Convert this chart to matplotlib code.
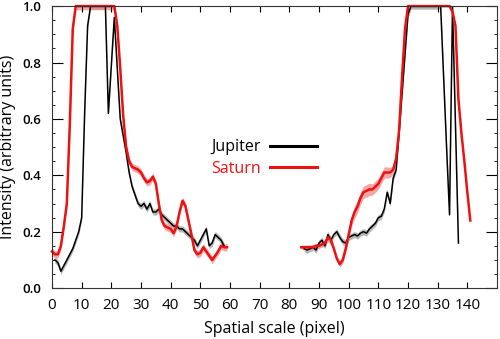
import matplotlib
matplotlib.use('Agg')
import matplotlib.pyplot as plt
from matplotlib.lines import Line2D
from matplotlib.ticker import MultipleLocator, FormatStrFormatter
import numpy as np

plt.rcParams['font.family'] = ['Open Sans', 'DejaVu Sans']

# Jupiter (black), two segments
jup_left_x = list(range(1, 59))
jup_left_y = [0.10, 0.09, 0.06, 0.08, 0.10, 0.12, 0.14, 0.17, 0.20, 0.25,
              0.62, 0.93, 1.0, 1.0, 1.0, 1.0, 1.0, 1.0, 0.62, 0.79,
              0.96, 0.78, 0.60, 0.54, 0.48, 0.41, 0.36, 0.33, 0.30, 0.29,
              0.30, 0.28, 0.30, 0.27, 0.27, 0.28, 0.26, 0.25, 0.24, 0.23,
              0.22, 0.22, 0.21, 0.21, 0.20, 0.19, 0.18, 0.17, 0.15, 0.17,
              0.19, 0.21, 0.15, 0.16, 0.19, 0.18, 0.17, 0.15]
jup_right_x = list(range(85, 138))
jup_right_y = [0.14, 0.135, 0.14, 0.145, 0.135, 0.16, 0.17, 0.15, 0.19, 0.17,
               0.19, 0.20, 0.18, 0.165, 0.16, 0.18, 0.185, 0.19, 0.185, 0.195,
               0.20, 0.195, 0.21, 0.22, 0.23, 0.25, 0.255, 0.28, 0.34, 0.30,
               0.39, 0.42, 0.55, 0.69, 0.83, 0.97, 1.0, 1.0, 1.0, 1.0,
               1.0, 1.0, 1.0, 1.0, 1.0, 1.0, 1.0, 0.75, 0.50, 0.26,
               1.0, 0.58, 0.16]
jup_err = 0.011

# Saturn (red), two segments
sat_left_x = list(range(0, 60))
sat_left_y = [0.13, 0.12, 0.12, 0.15, 0.22, 0.30, 0.58, 0.92, 1.0, 1.0,
              1.0, 1.0, 1.0, 1.0, 1.0, 1.0, 1.0, 1.0, 1.0, 1.0,
              1.0, 1.0, 0.93, 0.78, 0.61, 0.50, 0.45, 0.43, 0.425, 0.42,
              0.41, 0.39, 0.375, 0.38, 0.395, 0.37, 0.30, 0.24, 0.22, 0.215,
              0.21, 0.195, 0.22, 0.27, 0.31, 0.29, 0.24, 0.19, 0.135, 0.12,
              0.125, 0.145, 0.13, 0.115, 0.10, 0.115, 0.13, 0.15, 0.145, 0.145]
sat_left_err = 0.013
sat_right_x = list(range(84, 142))
sat_right_y = [0.145, 0.145, 0.145, 0.145, 0.145, 0.15, 0.15, 0.155, 0.16, 0.18,
               0.17, 0.14, 0.105, 0.085, 0.10, 0.14, 0.19, 0.24, 0.27, 0.29,
               0.32, 0.34, 0.345, 0.35, 0.35, 0.36, 0.37, 0.39, 0.41, 0.41,
               0.41, 0.42, 0.46, 0.56, 0.75, 0.92, 1.0, 1.0, 1.0, 1.0,
               1.0, 1.0, 1.0, 1.0, 1.0, 1.0, 1.0, 1.0, 1.0, 1.0,
               1.0, 0.98, 0.93, 0.67, 0.55, 0.45, 0.34, 0.24]
sat_right_err = [0.008, 0.008, 0.008, 0.008, 0.008, 0.009, 0.009, 0.010, 0.012, 0.016,
                 0.014, 0.012, 0.010, 0.010, 0.012, 0.015, 0.018, 0.020, 0.022, 0.022,
                 0.022, 0.022, 0.022, 0.022, 0.020, 0.020, 0.020, 0.020, 0.020, 0.020,
                 0.018, 0.016, 0.012, 0.010, 0.010, 0.010, 0.0, 0.0, 0.0, 0.0,
                 0.0, 0.0, 0.0, 0.0, 0.0, 0.0, 0.0, 0.0, 0.0, 0.0,
                 0.0, 0.0, 0.0, 0.0, 0.0, 0.0, 0.0, 0.0]

fig = plt.figure(figsize=(5.0, 3.39), dpi=100)
ax = fig.add_axes([0.104, 0.150, 0.890, 0.832])

for xs, ys in [(jup_left_x, jup_left_y), (jup_right_x, jup_right_y)]:
    xs = np.array(xs)
    ys = np.array(ys)
    ax.fill_between(xs, ys - jup_err, ys + jup_err, color='#999999', alpha=0.7, lw=0)
    ax.plot(xs, ys, color='black', lw=1.1)

for xs, ys, err in [(sat_left_x, sat_left_y, sat_left_err),
                    (sat_right_x, sat_right_y, np.array(sat_right_err))]:
    xs = np.array(xs)
    ys = np.array(ys)
    ax.fill_between(xs, ys - err, ys + err, color='#f08080', alpha=0.7, lw=0)
    ax.plot(xs, ys, color='#ee1111', lw=1.8, clip_on=False)

ax.set_xlim(0, 150)
ax.set_ylim(0, 1.0)
ax.set_xticks(np.arange(0, 141, 10))
ax.yaxis.set_major_locator(MultipleLocator(0.2))
ax.yaxis.set_minor_locator(MultipleLocator(0.05))
ax.yaxis.set_major_formatter(FormatStrFormatter('%.1f'))
ax.tick_params(which='both', direction='in', top=True, right=True)
ax.tick_params(which='major', length=4, width=0.8)
ax.tick_params(which='minor', length=2.5, width=0.6)
ax.tick_params(axis='x', labelsize=11, pad=7)
ax.tick_params(axis='y', which='major', length=8, labelsize=9.5, pad=8)
for lab in ax.get_yticklabels():
    lab.set_fontweight('semibold')
for s in ax.spines.values():
    s.set_linewidth(0.8)
    s.set_color('#333333')

ax.set_xlabel('Spatial scale (pixel)', fontsize=11.5, labelpad=6)
ax.set_ylabel('Intensity (arbitrary units)', fontsize=11.5, labelpad=4)

handles = [Line2D([], [], color='black', lw=2.2), Line2D([], [], color='#ee1111', lw=2.2)]
leg = ax.legend(handles, ['Jupiter', 'Saturn'], loc='upper right', bbox_to_anchor=(0.627, 0.579),
                frameon=False, markerfirst=False, fontsize=11.5, handlelength=2.9,
                handletextpad=0.6, labelspacing=0.35)
leg.get_texts()[1].set_color('#ee1111')

fig.savefig('out.png', dpi=100)
